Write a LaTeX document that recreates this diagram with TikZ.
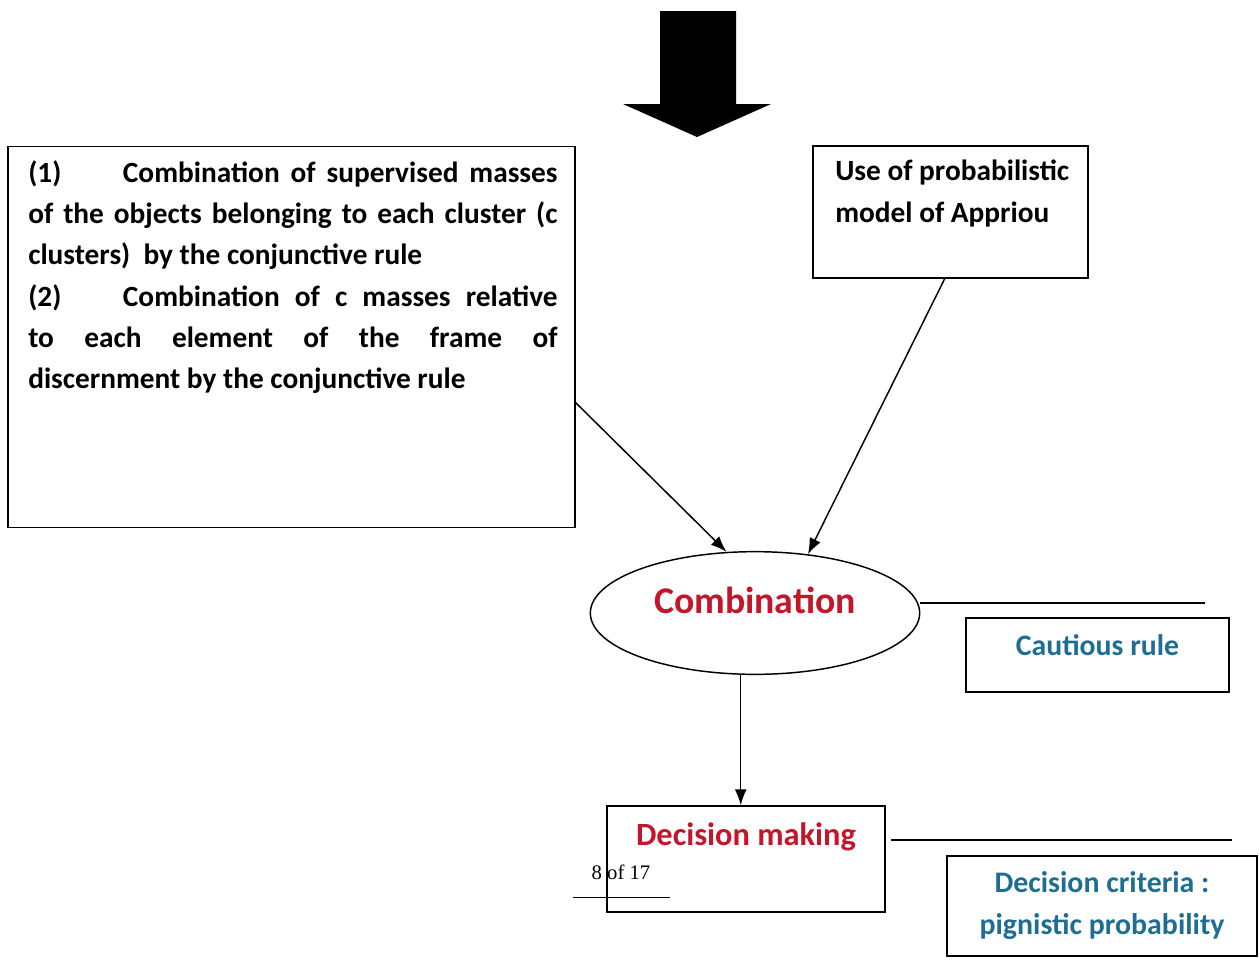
\documentclass[tikz,border=0pt]{standalone}
\usepackage{fontspec}
\setmainfont{Carlito}
\newfontfamily\pagefont{Liberation Serif}
\usetikzlibrary{arrows.meta,shapes.geometric}
\definecolor{combRed}{RGB}{196,22,42}
\definecolor{ruleBlue}{RGB}{30,110,148}

\begin{document}
\begin{tikzpicture}
[x=0.75pt,y=-0.75pt,
  boxDecorate/.style={shape=rectangle,draw,line width=1.1pt,inner sep=0pt},
  lineDecorate/.style={-,line width=1.1pt},
  arrowDecorate/.style={-{Latex[length=12pt,width=9pt]},line width=1.1pt},
  textDecorate/.style={inner sep=0pt,font=\bfseries\fontsize{22}{31}\selectfont}]
\useasboundingbox (0,0) rectangle (1259,961);
%% big arrow on top
\fill (660,11) -- (736,11) -- (736,104) -- (771,104) -- (697,137) -- (623,104) -- (660,104) -- cycle;
%% boxes
\node (clusterBox) at (291.5,337) [boxDecorate,minimum width=425pt,minimum height=286pt] {};
\node (clusterText) at (28,160) [textDecorate,anchor=north west,text width=397pt,align=justify] {%
  \makebox[397pt][s]{\makebox[71pt][l]{(1)}Combination of supervised masses}\\
  \makebox[397pt][s]{of the objects belonging to each cluster (c}\\
  clusters)\ \ by the conjunctive rule\\
  \makebox[397pt][s]{\makebox[71pt][l]{(2)}Combination of c masses relative}\\
  \makebox[397pt][s]{to each element of the frame of}\\
  discernment by the conjunctive rule};
\node (appriouBox) at (950.5,212) [boxDecorate,minimum width=206pt,minimum height=99pt] {};
\node (appriouText) at (835,160) [textDecorate,anchor=north west,align=left] {Use of probabilistic\\model of Appriou};
\node (comb) at (755,613) [shape=ellipse,draw,line width=1.1pt,inner sep=0pt,
  minimum width=247pt,minimum height=92pt,text=combRed,font=\bfseries\fontsize{28.3}{30}\selectfont]
  {\raisebox{0pt}[0pt][0pt]{Combination}};
\node (cautBox) at (1097.5,655) [boxDecorate,minimum width=197pt,minimum height=55.5pt,
  text=ruleBlue,font=\bfseries\fontsize{22.3}{26}\selectfont] {\raisebox{0pt}[0pt][0pt]{Cautious rule}};
\node (decBox) at (746,859) [boxDecorate,minimum width=208.5pt,minimum height=79.5pt,
  text=combRed,font=\bfseries\fontsize{24.3}{28}\selectfont] {\raisebox{10.5pt}[0pt][0pt]{Decision making}};
\node (critBox) at (1102,906) [boxDecorate,minimum width=232.5pt,minimum height=75pt,align=center,
  text=ruleBlue,font=\bfseries\fontsize{22.4}{31.5}\selectfont] {Decision criteria :\\pignistic probability};
%% page number
\node (pageNo) at (621,872) [inner sep=0pt,font=\pagefont\fontsize{15.5}{18}\selectfont] {8 of 17};
\coordinate (pageRuleL) at (573,897);
\coordinate (pageRuleR) at (670,897);
\draw[line width=0.7pt] (pageRuleL) -- (pageRuleR);
%% lines and arrows
\coordinate (cautEnd) at (1205,603);
\coordinate (critEnd) at (1232,840);
\draw[lineDecorate] (comb.east |- cautEnd) -- (cautEnd);
\draw[lineDecorate] ([xshift=3.75pt]decBox.east |- critEnd) -- (critEnd);
\draw[arrowDecorate] (clusterBox.-13.5) -- (comb.115);
\draw[arrowDecorate] (appriouBox.-95) -- (comb.48);
\draw[arrowDecorate] (comb.-103) -- (comb.-103 |- decBox.north);
\end{tikzpicture}
\end{document}
